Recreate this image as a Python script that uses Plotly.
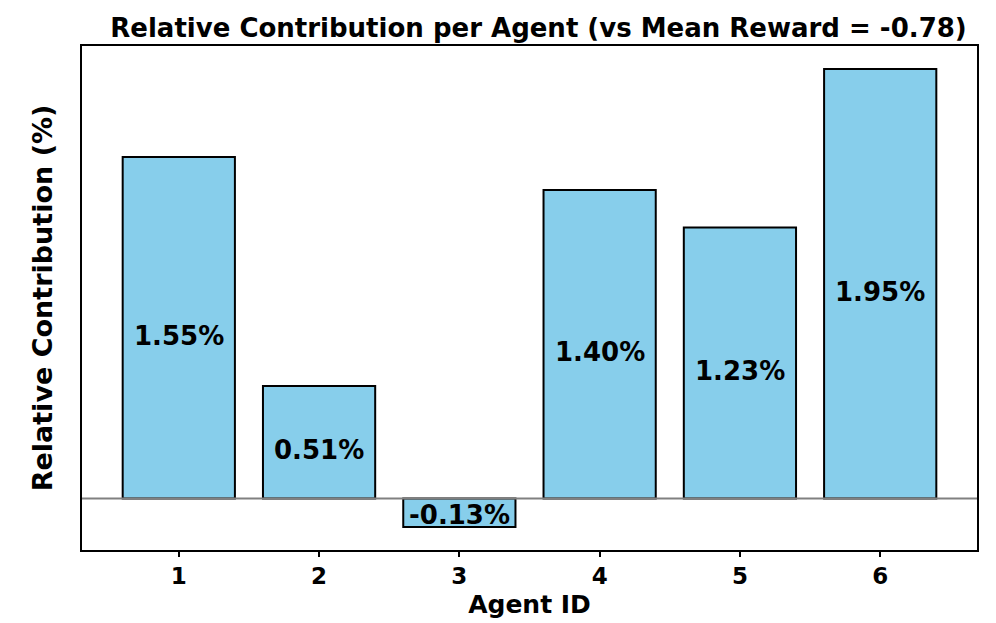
import plotly.graph_objects as go

agents = [1, 2, 3, 4, 5, 6]
contrib = [1.55, 0.51, -0.13, 1.40, 1.23, 1.95]
labels = ["1.55%", "0.51%", "-0.13%", "1.40%", "1.23%", "1.95%"]
mean_reward = -0.78

FONT = "DejaVu Sans"
# the page body adds an 8px offset; size the figure to fill the window
W, H = 988, 615

fig = go.Figure()
fig.add_trace(go.Bar(
    x=agents, y=contrib, width=0.8,
    marker=dict(color="#87CEEB", line=dict(color="black", width=2)),
    hoverinfo="skip",
))

for a, v, t in zip(agents, contrib, labels):
    fig.add_annotation(
        x=a, y=v / 2, text=t, showarrow=False,
        xanchor="center", yanchor="middle",
        yshift=(-8 if v > 0 else -2),
        font=dict(family=FONT, size=26, color="black", weight="bold"),
    )

fig.add_hline(y=0, line=dict(color="gray", width=2), layer="above")

lo, hi = min(min(contrib), 0), max(max(contrib), 0)
span = hi - lo
xlo, xhi = min(agents) - 0.4, max(agents) + 0.4
xspan = xhi - xlo

fig.update_layout(
    width=W, height=H,
    margin=dict(l=74, r=19, t=38, b=73),
    paper_bgcolor="white", plot_bgcolor="white",
    showlegend=False,
    title=dict(
        text=f"Relative Contribution per Agent (vs Mean Reward = {mean_reward:.2f})",
        x=(538.5 - 8) / W, xanchor="center", y=1 - 20 / H, yanchor="middle",
        font=dict(family=FONT, size=26, color="black", weight="bold"),
    ),
    xaxis=dict(
        automargin=False,
        range=[xlo - 0.05 * xspan, xhi + 0.05 * xspan],
        tickmode="array", tickvals=agents, ticktext=[str(a) for a in agents],
        ticks="outside", ticklen=5, tickwidth=1.5, tickcolor="black",
        showgrid=False, zeroline=False,
        showline=True, linecolor="black", linewidth=1.5, mirror=True,
        tickfont=dict(family=FONT, size=23, color="black", weight="bold"),
        title=dict(text="Agent ID", standoff=7,
                   font=dict(family=FONT, size=25, color="black", weight="bold")),
    ),
    yaxis=dict(
        automargin=False,
        range=[lo - 0.05 * span, hi + 0.05 * span],
        showticklabels=False, ticks="",
        showgrid=False, zeroline=False,
        showline=True, linecolor="black", linewidth=1.5, mirror=True,
        title=dict(text="Relative Contribution (%)", standoff=20,
                   font=dict(family=FONT, size=27, color="black", weight="bold")),
    ),
)

fig.write_html("out.html")
